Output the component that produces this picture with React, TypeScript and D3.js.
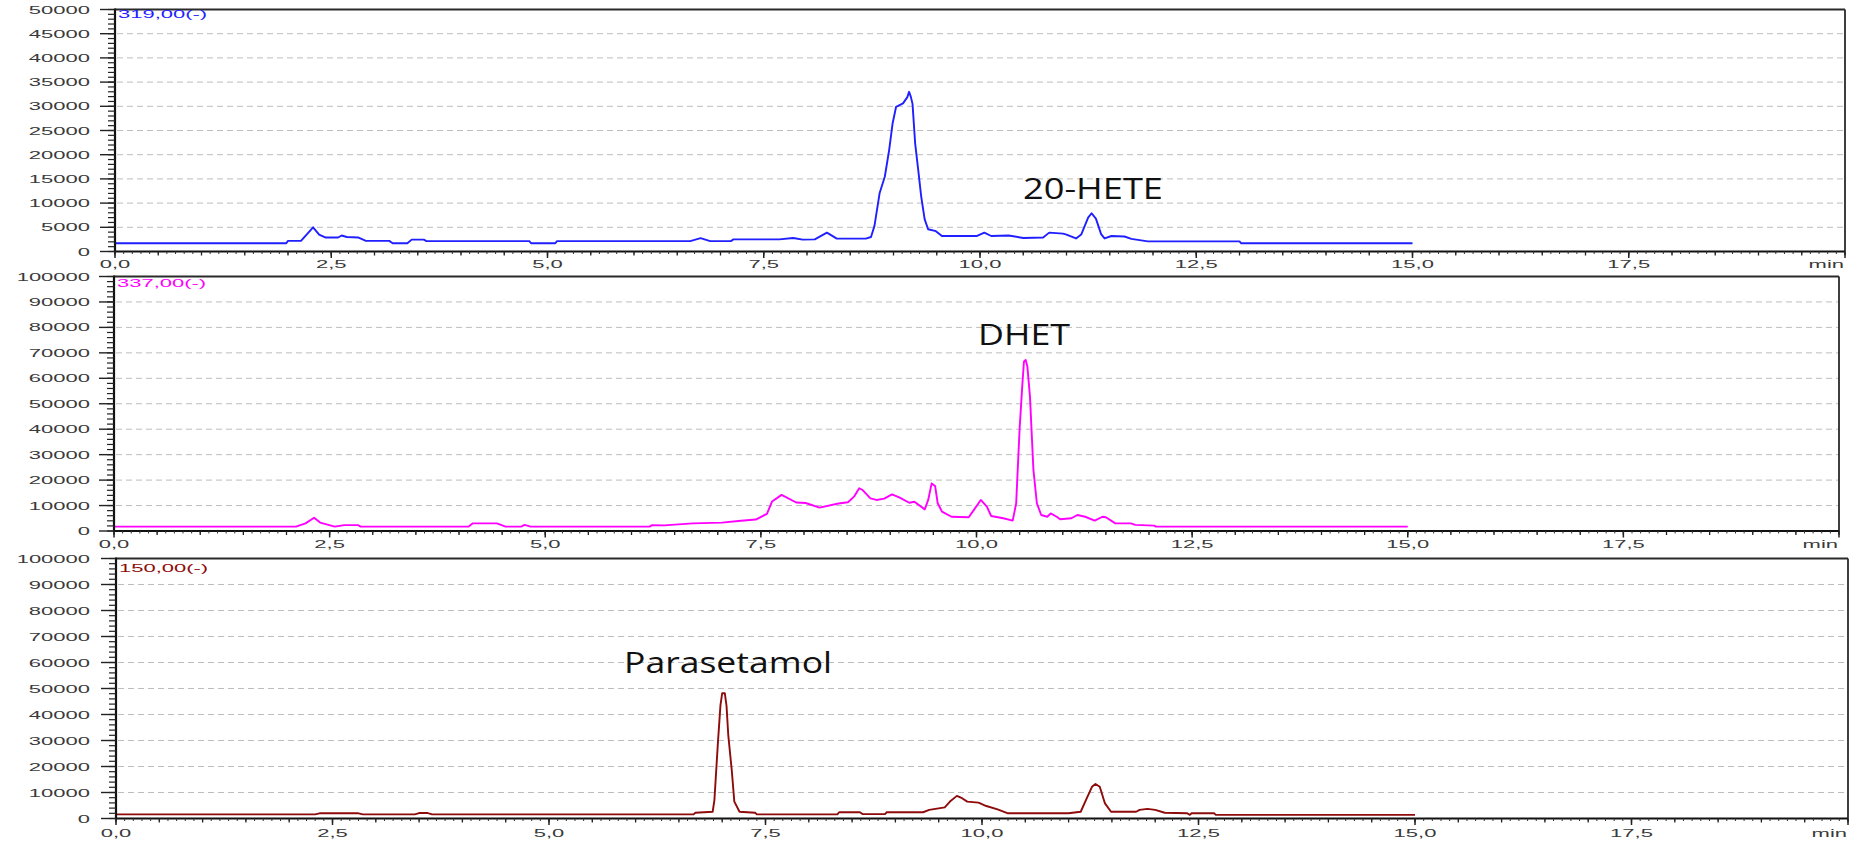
import React from "react";
import * as d3 from "d3";

const W = 1870;
const H = 846;

// x axis (retention time, min)
const xTickValues = [0, 2.5, 5, 7.5, 10, 12.5, 15, 17.5];
const xTickLabels = ["0,0", "2,5", "5,0", "7,5", "10,0", "12,5", "15,0", "17,5"];
const xUnit = "min";

// y tick values per panel
const yTicksTop = [0, 5000, 10000, 15000, 20000, 25000, 30000, 35000, 40000, 45000, 50000];
const yTicksMid = [0, 10000, 20000, 30000, 40000, 50000, 60000, 70000, 80000, 90000, 100000];
const yTicksBot = [0, 10000, 20000, 30000, 40000, 50000, 60000, 70000, 80000, 90000, 100000];

// channel names
const channels = ["319,00(-)", "337,00(-)", "150,00(-)"];
const peakNames = ["20-HETE", "DHET", "Parasetamol"];

// trace 1 : m/z 319 (20-HETE)
const hete_t = [0, 1.98, 2.0, 2.15, 2.22, 2.29, 2.36, 2.43, 2.58, 2.62, 2.68, 2.81, 2.9, 3.17, 3.21, 3.38, 3.43, 3.57, 3.6, 4.79, 4.81, 5.09, 5.11, 6.65, 6.77, 6.88, 7.12, 7.15, 7.68, 7.84, 7.95, 8.09, 8.23, 8.34, 8.68, 8.74, 8.78, 8.84, 8.9, 8.95, 8.99, 9.03, 9.11, 9.16, 9.18, 9.2, 9.22, 9.25, 9.29, 9.32, 9.36, 9.4, 9.49, 9.56, 9.96, 10.05, 10.13, 10.33, 10.5, 10.73, 10.8, 10.96, 11.0, 11.11, 11.17, 11.25, 11.29, 11.34, 11.4, 11.44, 11.52, 11.67, 11.75, 11.94, 13.0, 13.02, 15.0];
const hete_v = [1700, 1700, 2200, 2200, 3600, 5000, 3500, 2900, 2900, 3300, 3000, 2900, 2200, 2200, 1700, 1700, 2450, 2450, 2150, 2150, 1700, 1700, 2150, 2150, 2750, 2150, 2150, 2500, 2500, 2800, 2450, 2500, 3900, 2700, 2650, 3000, 5300, 12100, 15500, 21000, 26500, 29900, 30600, 31900, 33000, 32000, 30500, 22400, 16200, 11400, 6700, 4600, 4200, 3200, 3200, 3900, 3200, 3300, 2800, 2900, 3900, 3700, 3500, 2700, 3500, 7000, 7900, 6800, 3600, 2700, 3200, 3100, 2600, 2100, 2100, 1700, 1700];

// trace 2 : m/z 337 (DHET)
const dhet_t = [0, 2.11, 2.22, 2.32, 2.39, 2.56, 2.67, 2.83, 2.86, 4.11, 4.16, 4.44, 4.54, 4.72, 4.76, 4.83, 6.21, 6.24, 6.38, 6.71, 7.05, 7.27, 7.44, 7.57, 7.63, 7.74, 7.91, 8.02, 8.18, 8.4, 8.51, 8.58, 8.64, 8.68, 8.77, 8.84, 8.93, 9.02, 9.11, 9.22, 9.28, 9.4, 9.44, 9.48, 9.52, 9.55, 9.6, 9.71, 9.91, 9.97, 10.05, 10.12, 10.17, 10.31, 10.42, 10.46, 10.5, 10.53, 10.55, 10.57, 10.59, 10.62, 10.66, 10.7, 10.75, 10.82, 10.86, 10.93, 10.97, 11.1, 11.17, 11.26, 11.37, 11.46, 11.5, 11.61, 11.79, 11.84, 12.06, 12.08, 15.0];
const dhet_v = [1700, 1700, 3000, 5200, 3300, 1700, 2300, 2300, 1700, 1700, 3000, 3000, 1700, 1700, 2400, 1700, 1700, 2300, 2200, 3000, 3300, 4000, 4500, 6700, 11600, 14200, 11200, 11000, 9200, 10800, 11300, 13500, 16800, 16100, 12800, 12200, 12700, 14400, 13100, 11100, 11500, 8500, 12200, 18700, 17700, 10900, 7600, 5600, 5400, 8300, 12200, 9600, 5900, 5000, 4100, 10900, 40300, 56700, 66500, 67200, 64600, 52800, 24000, 10900, 6300, 5600, 6900, 5600, 4600, 5000, 6300, 5600, 4100, 5600, 5400, 3000, 3000, 2400, 2100, 1700, 1700];

// trace 3 : m/z 150 (Parasetamol)
const para_t = [0, 2.3, 2.35, 2.8, 2.85, 3.45, 3.5, 3.6, 3.65, 6.67, 6.69, 6.89, 6.91, 6.95, 6.98, 7.0, 7.03, 7.05, 7.07, 7.11, 7.14, 7.2, 7.38, 7.4, 8.33, 8.35, 8.59, 8.62, 8.88, 8.9, 9.32, 9.39, 9.57, 9.63, 9.71, 9.77, 9.83, 9.96, 10.05, 10.18, 10.3, 11.0, 11.14, 11.2, 11.27, 11.31, 11.36, 11.42, 11.49, 11.78, 11.82, 11.91, 12.0, 12.11, 12.37, 12.4, 12.42, 12.68, 12.7, 15.0];
const para_v = [1600, 1600, 2000, 2000, 1600, 1600, 2100, 2100, 1600, 1600, 2200, 2600, 7100, 28900, 43600, 48200, 48200, 43300, 32100, 18700, 6500, 2600, 2200, 1600, 1600, 2400, 2400, 1700, 1700, 2400, 2400, 3300, 4300, 6500, 8700, 7800, 6500, 6100, 4800, 3500, 2000, 2000, 2600, 7100, 12200, 13300, 12200, 5800, 2600, 2600, 3300, 3700, 3300, 2200, 2000, 1400, 2000, 2000, 1400, 1400];

// layout (pixels)
const layout = [
  { left: 115, right: 1845, top: 9.5, bottom: 251.5, chanY: 18, xLabY: 267.5, color: "#1f1fff",
    ann: { x: 1023, y: 199, len: 140 } },
  { left: 114, right: 1839, top: 276.5, bottom: 531, chanY: 287, xLabY: 548, color: "#ff00ff",
    ann: { x: 978, y: 345, len: 92 } },
  { left: 116, right: 1848, top: 558.5, bottom: 818.5, chanY: 572, xLabY: 837, color: "#8e0b0b",
    ann: { x: 624, y: 673, len: 208 } },
];

const series = [
  { t: hete_t, v: hete_v, yTicks: yTicksTop },
  { t: dhet_t, v: dhet_v, yTicks: yTicksMid },
  { t: para_t, v: para_v, yTicks: yTicksBot },
];

const tickFont = "'Liberation Sans', Arial, sans-serif";
const tickColor = "#3a3a3a";

function StretchText({ x, y, anchor, fill, children }: any) {
  return (
    <text
      transform={`translate(${x},${y}) scale(2,1)`}
      textAnchor={anchor}
      fontFamily={tickFont}
      fontSize={11}
      fill={fill}
    >
      {children}
    </text>
  );
}

function Panel({ idx }: { idx: number }) {
  const g = layout[idx];
  const s = series[idx];
  const yMax = s.yTicks[s.yTicks.length - 1];
  const x = d3.scaleLinear().domain([0, 20]).range([g.left, g.right]);
  const y = d3.scaleLinear().domain([0, yMax]).range([g.bottom, g.top]);
  const pts: [number, number][] = s.t.map((t, i) => [t, s.v[i]]);
  const line = d3
    .line<[number, number]>()
    .x((d) => x(d[0]))
    .y((d) => y(d[1]))
    .curve(d3.curveLinear);
  const step = s.yTicks[1] - s.yTicks[0];
  const minorY = d3.range(0, yMax + 1e-6, step / 5);
  const tinyX = d3.range(0, 20.0001, 0.1);
  const minorX = d3.range(0, 20.0001, 0.5);
  const majorX = d3.range(0, 20.0001, 2.5);

  return (
    <g>
      {/* grid */}
      {s.yTicks.slice(1, -1).map((v) => (
        <line key={"g" + v} x1={g.left + 2} x2={g.right} y1={y(v)} y2={y(v)}
          stroke="#bdbdbd" strokeWidth={1} strokeDasharray="6,4" />
      ))}
      {/* trace */}
      <path d={line(pts) || ""} fill="none" stroke={g.color} strokeWidth={1.9} strokeLinejoin="round" />
      {/* frame */}
      <line x1={g.left} x2={g.right} y1={g.top} y2={g.top} stroke="#2a2a2a" strokeWidth={1.8} />
      <line x1={g.right} x2={g.right} y1={g.top} y2={g.bottom} stroke="#2a2a2a" strokeWidth={1.8} />
      {/* y axis */}
      <line x1={g.left} x2={g.left} y1={g.top - 1} y2={g.bottom + 1} stroke="#111" strokeWidth={2.2} />
      {minorY.map((v) => (
        <line key={"my" + v} x1={g.left - 7} x2={g.left} y1={y(v)} y2={y(v)} stroke="#222" strokeWidth={1.2} />
      ))}
      {s.yTicks.map((v) => (
        <g key={"ty" + v}>
          <line x1={g.left - 15} x2={g.left} y1={y(v)} y2={y(v)} stroke="#222" strokeWidth={1.4} />
          <StretchText x={90} y={y(v) + 4} anchor="end" fill={tickColor}>{String(v)}</StretchText>
        </g>
      ))}
      {/* x axis */}
      <line x1={g.left} x2={g.right} y1={g.bottom} y2={g.bottom} stroke="#111" strokeWidth={2} />
      {tinyX.map((t) => (
        <line key={"tx" + t} x1={x(t)} x2={x(t)} y1={g.bottom} y2={g.bottom + 2.5} stroke="#333" strokeWidth={1} />
      ))}
      {minorX.map((t) => (
        <line key={"mx" + t} x1={x(t)} x2={x(t)} y1={g.bottom} y2={g.bottom + 4} stroke="#222" strokeWidth={1.3} />
      ))}
      {majorX.map((t) => (
        <line key={"Mx" + t} x1={x(t)} x2={x(t)} y1={g.bottom} y2={g.bottom + 6.5} stroke="#222" strokeWidth={1.5} />
      ))}
      {xTickValues.map((t, i) => (
        <StretchText key={"lx" + t} x={x(t)} y={g.xLabY} anchor="middle" fill={tickColor}>{xTickLabels[i]}</StretchText>
      ))}
      <StretchText x={x(20) - 1} y={g.xLabY} anchor="end" fill={tickColor}>{xUnit}</StretchText>
      {/* channel label */}
      <StretchText x={g.left + 3} y={g.chanY} anchor="start" fill={g.color}>{channels[idx]}</StretchText>
      {/* compound annotation */}
      <text x={g.ann.x} y={g.ann.y} fontFamily="'Open Sans', 'Noto Sans', sans-serif" fontSize={29}
        fill="#111" textLength={g.ann.len} lengthAdjust="spacingAndGlyphs">{peakNames[idx]}</text>
    </g>
  );
}

export default function App() {
  return (
    <svg width={W} height={H} viewBox={`0 0 ${W} ${H}`}
      style={{ position: "absolute", left: 0, top: 0, background: "#fff" }}>
      <rect x={0} y={0} width={W} height={H} fill="#fff" />
      <Panel idx={0} />
      <Panel idx={1} />
      <Panel idx={2} />
    </svg>
  );
}
